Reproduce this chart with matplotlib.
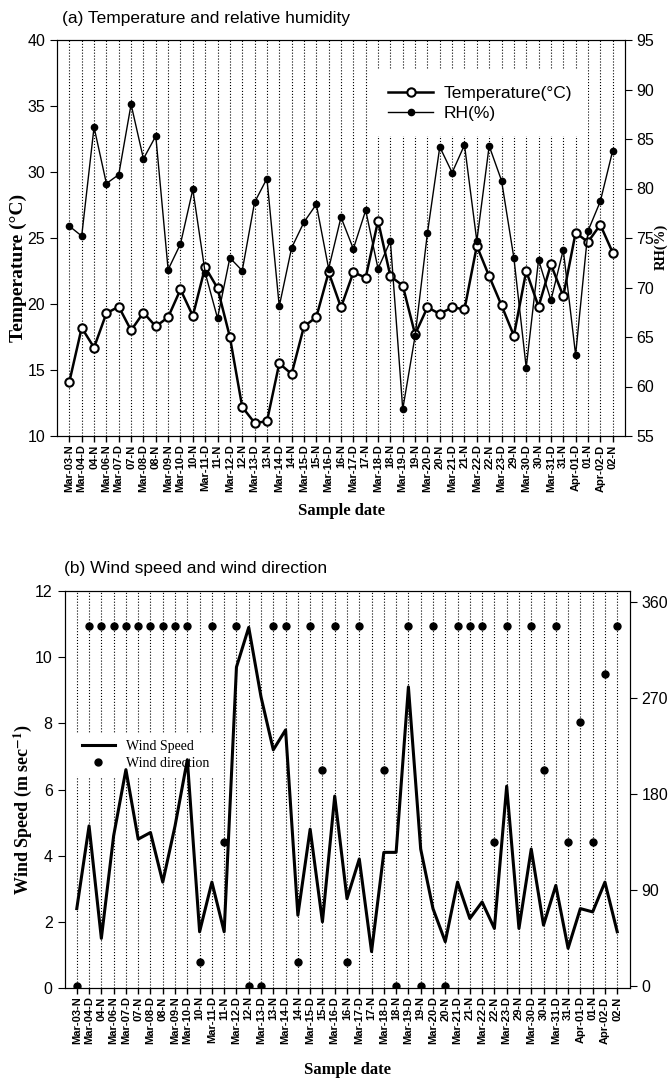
import numpy as np
import matplotlib
matplotlib.use("Agg")
import matplotlib.pyplot as plt

# sample dates (D = day, N = night)
sample_dates = ["Mar-03-N", "Mar-04-D", "04-N", "Mar-06-N", "Mar-07-D", "07-N", "Mar-08-D", "08-N",
                "Mar-09-N", "Mar-10-D", "10-N", "Mar-11-D", "11-N", "Mar-12-D", "12-N", "Mar-13-D",
                "13-N", "Mar-14-D", "14-N", "Mar-15-D", "15-N", "Mar-16-D", "16-N", "Mar-17-D",
                "17-N", "Mar-18-D", "18-N", "Mar-19-D", "19-N", "Mar-20-D", "20-N", "Mar-21-D",
                "21-N", "Mar-22-D", "22-N", "Mar-23-D", "29-N", "Mar-30-D", "30-N", "Mar-31-D",
                "31-N", "Apr-01-D", "01-N", "Apr-02-D", "02-N"]

temperature = [14.1, 18.2, 16.7, 19.3, 19.8, 18.0, 19.35, 18.3, 19.0, 21.1, 19.1, 22.8, 21.2, 17.5,
               12.2, 11.0, 11.1, 15.5, 14.7, 18.3, 19.0, 22.4, 19.75, 22.4, 22.0, 26.3, 22.1, 21.4,
               17.7, 19.75, 19.25, 19.75, 19.6, 24.4, 22.1, 19.9, 17.6, 22.5, 19.8, 23.0, 20.6,
               25.4, 24.7, 26.0, 23.9]

humidity = [76.2, 75.2, 86.2, 80.5, 81.4, 88.5, 83.0, 85.3, 71.8, 74.4, 79.9, 71.5, 66.9, 73.0,
            71.7, 78.6, 81.0, 68.1, 74.0, 76.6, 78.4, 71.9, 77.1, 73.9, 77.8, 71.9, 74.7, 57.7,
            65.1, 75.5, 84.2, 81.6, 84.4, 74.7, 84.3, 80.8, 73.0, 61.9, 72.8, 68.7, 73.8, 63.2,
            75.7, 78.7, 83.8]

wind_speed = [2.4, 4.9, 1.5, 4.6, 6.6, 4.5, 4.7, 3.2, 4.9, 6.9, 1.7, 3.2, 1.7, 9.7, 10.9, 8.8,
              7.2, 7.8, 2.2, 4.8, 2.0, 5.8, 2.7, 3.9, 1.1, 4.1, 4.1, 9.1, 4.2, 2.4, 1.4, 3.2,
              2.1, 2.6, 1.8, 6.1, 1.8, 4.2, 1.9, 3.1, 1.2, 2.4, 2.3, 3.2, 1.7]

wind_direction = [0, 337.5, 337.5, 337.5, 337.5, 337.5, 337.5, 337.5, 337.5, 337.5, 22.5, 337.5,
                  135, 337.5, 0, 0, 337.5, 337.5, 22.5, 337.5, 202.5, 337.5, 22.5, 337.5, np.nan,
                  202.5, 0, 337.5, 0, 337.5, 0, 337.5, 337.5, 337.5, 135, 337.5, np.nan, 337.5,
                  202.5, 337.5, 135, 247.5, 135, 292.5, 337.5]

plt.rcParams['font.family'] = ['Liberation Sans', 'DejaVu Sans']
plt.rcParams['mathtext.fontset'] = 'stix'

serif_bold = {'family': 'Liberation Serif', 'weight': 'bold'}

fig = plt.figure(figsize=(6.7, 10.82), dpi=100)
x = np.arange(len(sample_dates))


def style_x(ax):
    ax.set_xlim(-1, len(sample_dates))
    ax.set_xticks(x)
    ax.set_xticklabels(sample_dates, rotation=90, fontsize=8, fontweight='bold')
    ax.tick_params(axis='x', direction='out', length=4, width=1, pad=2)
    ax.grid(axis='x', linestyle=':', color='black', linewidth=0.8)
    ax.set_axisbelow(True)


# (a) Temperature and relative humidity
ax1 = fig.add_axes([57 / 670, 1 - 436 / 1082, 568 / 670, 396 / 1082])
ax1b = ax1.twinx()
style_x(ax1)

l1, = ax1.plot(x, temperature, color='black', linewidth=1.8, marker='o', markersize=6,
               markerfacecolor='white', markeredgewidth=1.5, label='Temperature(°C)')
l2, = ax1b.plot(x, humidity, color='black', linewidth=1.0, marker='o', markersize=4.5,
                label='RH(%)')

ax1.set_ylim(10, 40)
ax1b.set_ylim(55, 95)
ax1.set_yticks(np.arange(10, 41, 5))
ax1b.set_yticks(np.arange(55, 96, 5))
ax1.tick_params(axis='y', labelsize=11.5, direction='out', length=5)
ax1b.tick_params(axis='y', labelsize=11.5, direction='out', length=5, pad=3)

ax1.set_ylabel('Temperature (°C)', fontdict=serif_bold, fontsize=14)
ax1.yaxis.set_label_coords(-0.053, 0.424)
ax1b.set_ylabel('RH(%)', fontdict=serif_bold, fontsize=10.5)
ax1b.yaxis.set_label_coords(1.051, 0.478)
ax1.set_xlabel('Sample date', fontdict=serif_bold, fontsize=12)
ax1.xaxis.set_label_coords(0.5, -0.169)

leg1 = ax1b.legend(handles=[l1, l2], loc='upper left', bbox_to_anchor=(0.54, 0.945),
                   frameon=True, fontsize=12.5, handlelength=2.6, borderpad=0.9,
                   labelspacing=0.25, handletextpad=0.6)
leg1.get_frame().set_edgecolor('none')
leg1.get_frame().set_facecolor('white')
leg1.get_frame().set_alpha(1)

fig.text(62 / 670, 1 - 18 / 1082, '(a) Temperature and relative humidity', fontsize=12.5,
         va='center', ha='left')

# (b) Wind speed and wind direction
ax2 = fig.add_axes([64.5 / 670, 1 - 988 / 1082, 565 / 670, 397 / 1082])
ax2b = ax2.twinx()
style_x(ax2)

l3, = ax2.plot(x, wind_speed, color='black', linewidth=2.2, label='Wind Speed', zorder=3)
l4, = ax2b.plot(x, wind_direction, linestyle='none', marker='o', markersize=5, color='black',
                label='Wind direction')

ax2.set_ylim(0, 12)
ax2.set_yticks(np.arange(0, 13, 2))
ax2b.set_ylim(-2, 370)
ax2b.set_yticks([0, 90, 180, 270, 360])
ax2.tick_params(axis='y', labelsize=11.5, direction='out', length=5)
ax2b.tick_params(axis='y', labelsize=11.5, direction='out', length=5)

ax2.set_ylabel('Wind Speed (m sec$^{\\mathbf{-1}}$)', fontdict=serif_bold, fontsize=13)
ax2.yaxis.set_label_coords(-0.054, 0.448)
ax2.set_xlabel('Sample date', fontdict=serif_bold, fontsize=12)
ax2.xaxis.set_label_coords(0.5, -0.186)

# legend sits over the grid but under the wind speed line
leg2 = ax2.legend(handles=[l3, l4], loc='upper left', bbox_to_anchor=(0.006, 0.66),
                  frameon=True, prop={'family': 'Liberation Serif', 'size': 10},
                  handlelength=2.4, borderpad=0.5, labelspacing=0.3, handletextpad=0.8)
leg2.get_frame().set_edgecolor('none')
leg2.get_frame().set_facecolor('white')
leg2.get_frame().set_alpha(1)
leg2.set_zorder(1)

fig.text(64 / 670, 1 - 569 / 1082, '(b) Wind speed and wind direction', fontsize=12.5,
         va='center', ha='left')

fig.savefig('out.png', dpi=100)
